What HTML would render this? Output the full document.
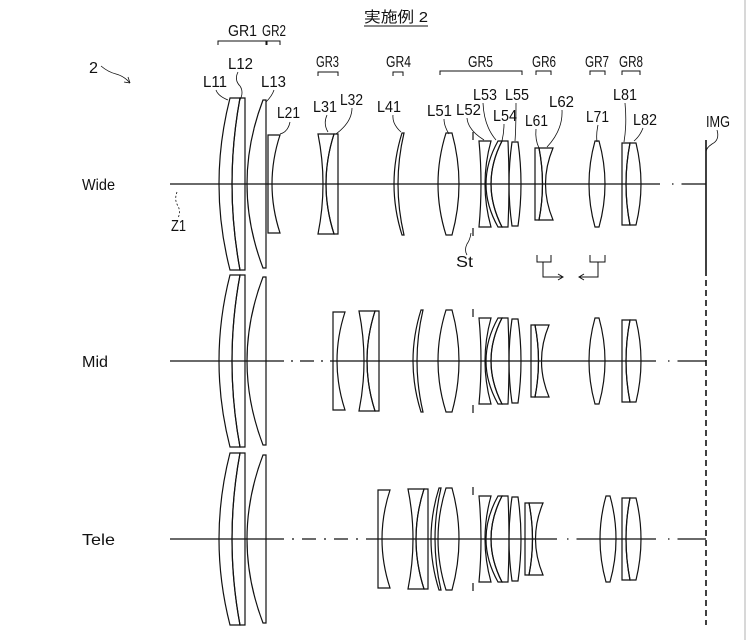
<!DOCTYPE html>
<html><head><meta charset="utf-8"><style>
html,body{margin:0;padding:0;background:#fff;}
svg{display:block;}
text{font-family:"Liberation Sans","Noto Sans CJK JP",sans-serif;font-size:16px;fill:#111;}
</style></head><body>
<svg width="748" height="640" viewBox="0 0 748 640" xmlns="http://www.w3.org/2000/svg">
<defs>
<g id="g1" fill="none" stroke="#111" stroke-width="1.2">
<path d="M230,-86 Q208,0 230,86 L240,86 Q224,0 240,-86 Z"/>
<path d="M240,-86 L245,-86 L245,86 L240,86 Q224,0 240,-86 Z"/>
<path d="M263,-84 Q231,0 263,84 L266,84 L266,-84 Z"/>
</g>
<g id="g2" fill="none" stroke="#111" stroke-width="1.2">
<path d="M268,-49 L280,-49 Q264,0 280,49 L268,49 Z"/>
</g>
<g id="g3" fill="none" stroke="#111" stroke-width="1.2">
<path d="M318,-50 L334,-50 Q318,0 334,50 L318,50 Q328,0 318,-50 Z"/>
<path d="M334,-50 L338,-50 L338,50 L334,50 Q318,0 334,-50 Z"/>
</g>
<g id="g4" fill="none" stroke="#111" stroke-width="1.2">
<path d="M402,-51 Q386,0 402,51 L404,51 Q392,0 404,-51 Z"/>
</g>
<g id="g5" fill="none" stroke="#111" stroke-width="1.2">
<path d="M446,-51 Q430,0 446,51 L452,51 Q466,0 452,-51 Z"/>
<path d="M473,-52 V-44 M473,44 V52"/>
<path d="M479,-43 L491,-43 Q479,0 491,43 L479,43 Q483,0 479,-43 Z"/>
<path d="M498,-43 Q474,0 498,43 L502,43 Q480,0 502,-43 Z"/>
<path d="M502,-43 Q480,0 502,43 L508,43 Q510,0 508,-43 Z"/>
<path d="M512,-42 Q506,0 512,42 L518,42 Q524,0 518,-42 Z"/>
</g>
<g id="g6" fill="none" stroke="#111" stroke-width="1.2">
<path d="M535,-36 L539,-36 Q546,0 539,36 L535,36 Z"/>
<path d="M539,-36 L553,-36 Q538,0 553,36 L539,36 Q546,0 539,-36 Z"/>
</g>
<g id="g7" fill="none" stroke="#111" stroke-width="1.2">
<path d="M595,-43 Q583,0 595,43 L599,43 Q611,0 599,-43 Z"/>
</g>
<g id="g8" fill="none" stroke="#111" stroke-width="1.2">
<path d="M622,-41 L630,-41 Q622,0 630,41 L622,41 Z"/>
<path d="M630,-41 L636,-41 Q646,0 636,41 L630,41 Q622,0 630,-41 Z"/>
</g>
</defs>

<line x1="745" y1="0" x2="745" y2="640" stroke="#ccc" stroke-width="1.5"/>

<text x="364" y="22" textLength="64" lengthAdjust="spacingAndGlyphs" style="font-size:15px">実施例 2</text>
<line x1="364" y1="26" x2="428" y2="26" stroke="#111" stroke-width="1"/>

<g>
<text x="228" y="36" textLength="29" lengthAdjust="spacingAndGlyphs">GR1</text>
<text x="262" y="36" textLength="24" lengthAdjust="spacingAndGlyphs">GR2</text>
<text x="316" y="67" textLength="23" lengthAdjust="spacingAndGlyphs">GR3</text>
<text x="386" y="67" textLength="25" lengthAdjust="spacingAndGlyphs">GR4</text>
<text x="468" y="67" textLength="25" lengthAdjust="spacingAndGlyphs">GR5</text>
<text x="532" y="67" textLength="24" lengthAdjust="spacingAndGlyphs">GR6</text>
<text x="585" y="67" textLength="24" lengthAdjust="spacingAndGlyphs">GR7</text>
<text x="619" y="67" textLength="24" lengthAdjust="spacingAndGlyphs">GR8</text>
</g>
<g fill="none" stroke="#111" stroke-width="1">
<path d="M218,45 V41 H266 V45"/>
<path d="M267,45 V41 H280 V45"/>
<path d="M318,76 V72 H338 V76"/>
<path d="M393,76 V72 H403 V76"/>
<path d="M440,75 V71 H522 V75"/>
<path d="M536,75 V71 H551 V75"/>
<path d="M590,75 V71 H605 V75"/>
<path d="M622,75 V71 H640 V75"/>
</g>

<g>
<text x="203" y="87" textLength="24" lengthAdjust="spacingAndGlyphs">L11</text>
<text x="228" y="69" textLength="25" lengthAdjust="spacingAndGlyphs">L12</text>
<text x="261" y="87" textLength="25" lengthAdjust="spacingAndGlyphs">L13</text>
<text x="277" y="118" textLength="23" lengthAdjust="spacingAndGlyphs">L21</text>
<text x="313" y="112" textLength="24" lengthAdjust="spacingAndGlyphs">L31</text>
<text x="340" y="105" textLength="23" lengthAdjust="spacingAndGlyphs">L32</text>
<text x="377" y="112" textLength="24" lengthAdjust="spacingAndGlyphs">L41</text>
<text x="427" y="116" textLength="25" lengthAdjust="spacingAndGlyphs">L51</text>
<text x="456" y="115" textLength="25" lengthAdjust="spacingAndGlyphs">L52</text>
<text x="473" y="100" textLength="24" lengthAdjust="spacingAndGlyphs">L53</text>
<text x="493" y="121" textLength="24" lengthAdjust="spacingAndGlyphs">L54</text>
<text x="505" y="100" textLength="24" lengthAdjust="spacingAndGlyphs">L55</text>
<text x="525" y="126" textLength="23" lengthAdjust="spacingAndGlyphs">L61</text>
<text x="549" y="107" textLength="25" lengthAdjust="spacingAndGlyphs">L62</text>
<text x="586" y="122" textLength="23" lengthAdjust="spacingAndGlyphs">L71</text>
<text x="613" y="100" textLength="24" lengthAdjust="spacingAndGlyphs">L81</text>
<text x="633" y="125" textLength="24" lengthAdjust="spacingAndGlyphs">L82</text>
<text x="706" y="127" textLength="24" lengthAdjust="spacingAndGlyphs">IMG</text>
<text x="456" y="267" textLength="17" lengthAdjust="spacingAndGlyphs">St</text>
<text x="171" y="231" textLength="15" lengthAdjust="spacingAndGlyphs">Z1</text>
<text x="89" y="73" textLength="9" lengthAdjust="spacingAndGlyphs">2</text>
<text x="82" y="190" textLength="33" lengthAdjust="spacingAndGlyphs">Wide</text>
<text x="82" y="367" textLength="26" lengthAdjust="spacingAndGlyphs">Mid</text>
<text x="82" y="545" textLength="33" lengthAdjust="spacingAndGlyphs">Tele</text>
</g>

<g fill="none" stroke="#111" stroke-width="0.8">
<path d="M101,66 Q108,72 116,74 Q124,76 130,83"/>
<path d="M130,83 l-2,-6 M130,83 l-6,-1"/>
<path d="M177,192 Q174,200 178,206 Q181,212 178,218" stroke-dasharray="2 2"/>
<path d="M216,90 Q218,96 228,100"/>
<path d="M238,72 Q234,80 240,86 Q244,92 240,100"/>
<path d="M274,90 Q272,96 266,102"/>
<path d="M290,122 Q288,132 280,134"/>
<path d="M327,115 Q323,124 328,132"/>
<path d="M352,108 Q352,122 336,134"/>
<path d="M393,115 Q392,124 401,132"/>
<path d="M444,119 Q444,126 449,134"/>
<path d="M467,118 Q468,130 484,140"/>
<path d="M483,103 Q484,126 496,140"/>
<path d="M504,124 Q504,132 502,141"/>
<path d="M516,103 Q516,128 515,141"/>
<path d="M536,129 Q535,140 539,148"/>
<path d="M562,110 Q563,130 547,147"/>
<path d="M598,125 Q596,134 597,142"/>
<path d="M625,103 Q627,124 624,142"/>
<path d="M643,128 Q640,136 634,141"/>
<path d="M717,130 Q720,140 712,144 Q706,148 706,152"/>
<path d="M471,233 Q470,240 467,244 Q464,250 467,255"/>
</g>

<g fill="none" stroke="#111" stroke-width="1">
<path d="M537,255 V262 H551 V255"/>
<path d="M543,262 V277 H562"/>
<path d="M558,274 L563,277 L558,280"/>
<path d="M590,255 V262 H605 V255"/>
<path d="M598,262 V277 H580"/>
<path d="M584,274 L579,277 L584,280"/>
</g>

<line x1="706" y1="140" x2="706" y2="270" stroke="#111" stroke-width="1.6"/>
<line x1="706" y1="270" x2="706" y2="625" stroke="#111" stroke-width="1.6" stroke-dasharray="6 4"/>

<g transform="translate(0,184)">
<line x1="170" y1="0" x2="660" y2="0" stroke="#111" stroke-width="1.2"/>
<line x1="660" y1="0" x2="706" y2="0" stroke="#111" stroke-width="1.2" stroke-dasharray="0 12 1.5 8 30"/>
<use href="#g1"/><use href="#g2"/><use href="#g3"/><use href="#g4"/><use href="#g5"/><use href="#g6"/><use href="#g7"/><use href="#g8"/>
</g>

<g transform="translate(0,361)">
<line x1="170" y1="0" x2="270" y2="0" stroke="#111" stroke-width="1.2"/>
<line x1="270" y1="0" x2="330" y2="0" stroke="#111" stroke-width="1.2" stroke-dasharray="14 7 2 7"/>
<line x1="330" y1="0" x2="656" y2="0" stroke="#111" stroke-width="1.2"/>
<line x1="656" y1="0" x2="706" y2="0" stroke="#111" stroke-width="1.2" stroke-dasharray="0 12 1.5 8 30"/>
<use href="#g1"/>
<use href="#g2" transform="translate(65,0)"/>
<use href="#g3" transform="translate(41,0)"/>
<use href="#g4" transform="translate(19,0)"/>
<use href="#g5"/>
<use href="#g6" transform="translate(-4,0)"/>
<use href="#g7"/>
<use href="#g8"/>
</g>

<g transform="translate(0,539)">
<line x1="170" y1="0" x2="270" y2="0" stroke="#111" stroke-width="1.2"/>
<line x1="270" y1="0" x2="378" y2="0" stroke="#111" stroke-width="1.2" stroke-dasharray="14 8 2 8"/>
<line x1="378" y1="0" x2="557" y2="0" stroke="#111" stroke-width="1.2"/>
<line x1="557" y1="0" x2="600" y2="0" stroke="#111" stroke-width="1.2" stroke-dasharray="0 10 1.5 8 30"/>
<line x1="600" y1="0" x2="656" y2="0" stroke="#111" stroke-width="1.2"/>
<line x1="656" y1="0" x2="706" y2="0" stroke="#111" stroke-width="1.2" stroke-dasharray="0 12 1.5 8 30"/>
<use href="#g1"/>
<use href="#g2" transform="translate(110,0)"/>
<use href="#g3" transform="translate(90,0)"/>
<use href="#g4" transform="translate(37,0)"/>
<use href="#g5"/>
<use href="#g6" transform="translate(-10,0)"/>
<use href="#g7" transform="translate(11,0)"/>
<use href="#g8"/>
</g>
</svg>
</body></html>
